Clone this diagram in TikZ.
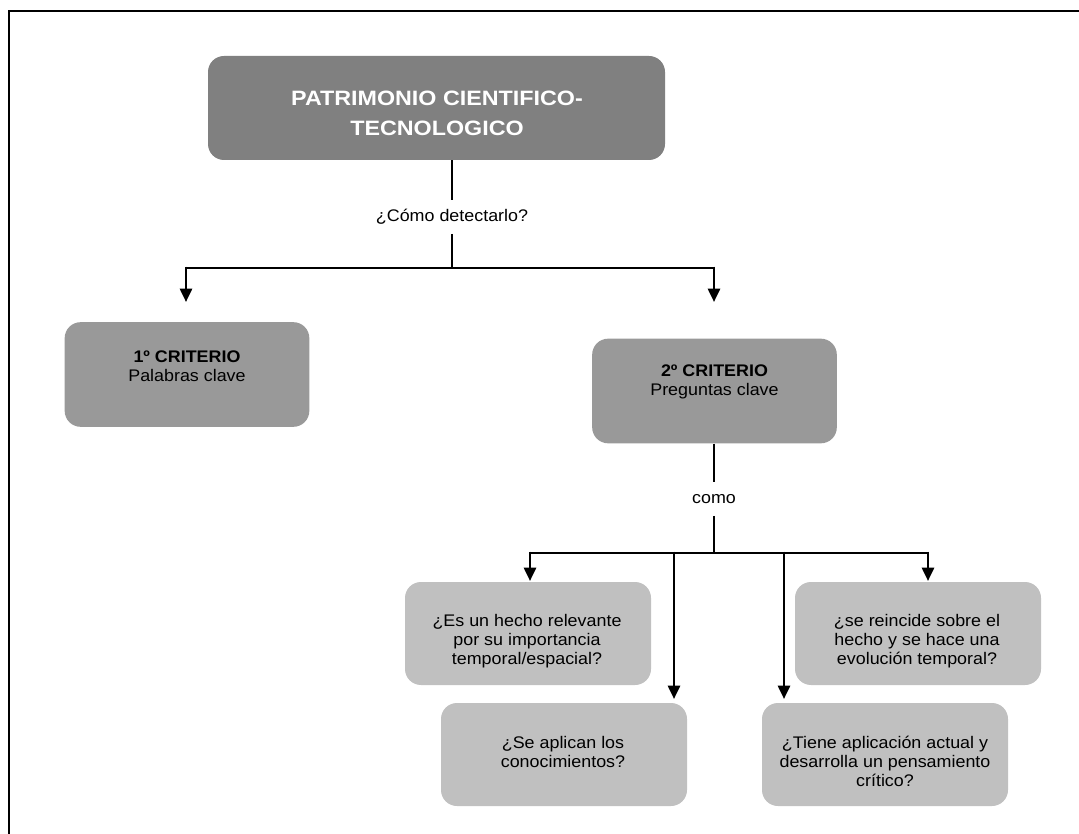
\documentclass[tikz,border=0pt]{standalone}
\usepackage{fontspec}
\setmainfont[FakeStretch=1.065]{Liberation Sans}
\newfontfamily\titlefont[FakeStretch=1.12]{Liberation Sans}
\usetikzlibrary{arrows.meta}
\definecolor{topgray}{HTML}{808080}
\definecolor{midgray}{HTML}{999999}
\definecolor{lightgray}{HTML}{C0C0C0}
\begin{document}
\begin{tikzpicture}[x=0.75pt,y=-0.75pt,
  box/.style={rectangle,rounded corners=12pt,draw=none,inner sep=0pt},
  topbox/.style={box,fill=topgray,minimum width=342.75pt,minimum height=78pt},
  critbox/.style={box,fill=midgray,minimum width=183.5pt,minimum height=78.5pt},
  qbox/.style={box,fill=lightgray,minimum width=184.5pt,minimum height=77.25pt},
  txt/.style={align=center,inner sep=0pt,font=\fontsize{12.6pt}{14.25pt}\selectfont},
  ttl/.style={align=center,inner sep=0pt,text=white,font=\titlefont\fontsize{15.6pt}{22.5pt}\selectfont\bfseries},
  lbl/.style={inner sep=0pt,minimum height=25pt,font=\fontsize{12.6pt}{14.25pt}\selectfont},
  stem/.style={line width=1pt},
  conn/.style={line width=2pt},
  arr/.style={line width=2pt,-{Triangle[width=9pt,length=10pt]}}
]
\useasboundingbox (0,0) rectangle (1079,834);
\fill[white] (0,0) rectangle (1079,834);
% frame
\draw[line width=2pt] (9,840) -- (9,11) -- (1085,11);

% boxes
\node[topbox] (top) at (436.5,108) {};
\node[ttl] (toptxt) at (437,113) {PATRIMONIO CIENTIFICO-\\TECNOLOGICO};

\node[critbox] (c1) at (187,374.5) {};
\node[txt] (c1txt) at (187,366) {\textbf{1º CRITERIO}\\Palabras clave};

\node[critbox] (c2) at (714.5,391) {};
\node[txt] (c2txt) at (714.5,382) {\textbf{2º CRITERIO}\\Preguntas clave};

\node[qbox] (qa) at (528,633.5) {};
\node[txt] (qatxt) at (527,641) {¿Es un hecho relevante\\por su importancia\\temporal/espacial?};

\node[qbox] (qb) at (564,754.5) {};
\node[txt] (qbtxt) at (563,751.5) {¿Se aplican los\\conocimientos?};

\node[qbox] (qc) at (918,633.5) {};
\node[txt] (qctxt) at (917,641) {¿se reincide sobre el\\hecho y se hace una\\evolución temporal?};

\node[qbox] (qd) at (885,754.5) {};
\node[txt] (qdtxt) at (885,761) {¿Tiene aplicación actual y\\desarrolla un pensamiento\\crítico?};

% labels
\node[lbl] (l1) at (452,217) {¿Cómo detectarlo?};
\node[lbl] (l2) at (714,499) {como};

% junctions
\coordinate (j1) at (452,268);
\coordinate (j1L) at (186,268);
\coordinate (j1R) at (714,268);
\coordinate (a1) at (186,302);
\coordinate (a2) at (714,302);

\coordinate (j2) at (714,553);
\coordinate (j2a) at (530,553);
\coordinate (j2b) at (674,553);
\coordinate (j2c) at (784,553);
\coordinate (j2d) at (928,553);
\coordinate (b1) at (530,581);
\coordinate (b2) at (674,699);
\coordinate (b3) at (784,699);
\coordinate (b4) at (928,581);

% connectors
\draw[stem] (top.south -| j1) -- (l1);
\draw[stem] (l1) -- (j1);
\draw[conn] (j1L) -- (j1R);
\draw[arr] ([yshift=1pt]j1L) -- (a1);
\draw[arr] ([yshift=1pt]j1R) -- (a2);

\draw[stem] (c2.south -| j2) -- (l2);
\draw[stem] (l2) -- (j2);
\draw[conn] (j2a) -- (j2d);
\draw[arr] ([yshift=1pt]j2a) -- (b1);
\draw[arr] ([yshift=1pt]j2b) -- (b2);
\draw[arr] ([yshift=1pt]j2c) -- (b3);
\draw[arr] ([yshift=1pt]j2d) -- (b4);
\end{tikzpicture}
\end{document}
